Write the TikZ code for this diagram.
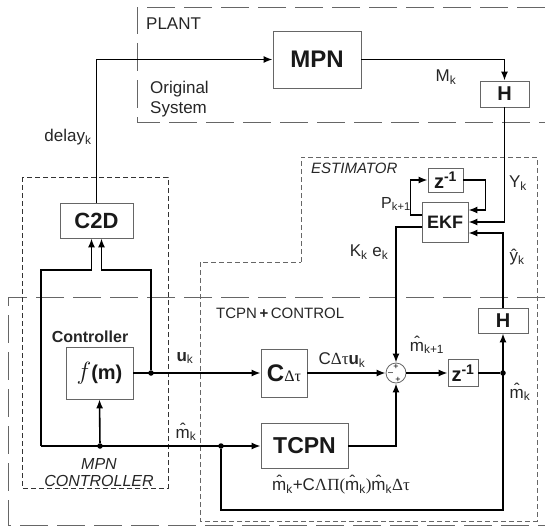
\documentclass[tikz,border=0pt]{standalone}
\usepackage{fontspec}
\setmainfont{Liberation Sans}
\newfontfamily\grk{Liberation Serif}
\usetikzlibrary{arrows.meta}

\newcommand{\fs}[1]{\fontsize{#1}{#1}\selectfont}

\tikzset{
    blk/.style={draw=black!60, line width=0.8pt, fill=white, text=black!90, inner sep=0pt},
    sig/.style={line width=1.6pt, -{Latex[length=9pt,width=7pt]}},
    wire/.style={line width=1.6pt},
    dot/.style={circle, fill, inner sep=0pt, minimum size=5.5pt},
    lbl/.style={text=black!85, inner sep=0pt},
    longdash/.style={draw=black!60, line width=0.8pt, dash pattern=on 28pt off 9pt},
    shortdash/.style={draw=black!60, line width=0.8pt, dash pattern=on 5pt off 3pt},
}

\begin{document}
\begin{tikzpicture}[x=1pt, y=-1pt]
    \useasboundingbox (0,0) rectangle (545,527);

    % Frames
    \draw[longdash] (545,7) -- (137,7) -- (137,122) -- (545,122);
    \draw[longdash] (545,297) -- (8,297) -- (8,525) -- (545,525);
    \draw[shortdash] (301,262) -- (301,157) -- (537,157) -- (537,521) -- (200,521) -- (200,262) -- cycle;
    \draw[shortdash, draw=black!80] (22,177) rectangle (168,488);

    \node[lbl, font=\fs{17}, anchor=west] (plantLbl) at (146,24) {PLANT};
    \node[lbl, font=\fontsize{17}{20}\selectfont, align=left, anchor=west] (origLbl) at (150,99) {Original\\System};
    \node[lbl, font=\fs{15}\itshape, anchor=west] (estLbl) at (311,168) {ESTIMATOR};
    \node[lbl, font=\fs{15}, anchor=west] (tcpnLbl) at (216,313) {TCPN\,\textbf{+}\,CONTROL};
    \node[lbl, font=\fontsize{16}{17}\selectfont\itshape, align=center] (mpncLbl) at (99,473) {MPN\\CONTROLLER};
    \node[lbl, font=\fs{16}\bfseries] (ctrlLbl) at (90,337) {Controller};

    % Blocks
    \node[blk, minimum width=88, minimum height=57, font=\fs{24}\bfseries] (mpn) at (317,59.5) {MPN};
    \node[blk, minimum width=49, minimum height=26, font=\fs{20}\bfseries] (hTop) at (504.5,94) {H};
    \node[blk, minimum width=35, minimum height=24, font=\fs{20}\bfseries] (zUp) at (445.5,180) {z\textsuperscript{-1}};
    \node[blk, minimum width=46, minimum height=40, font=\fs{18}\bfseries] (ekf) at (445,222) {EKF};
    \node[blk, minimum width=73, minimum height=35, font=\fs{22}\bfseries] (c2d) at (96.5,220.5) {C2D};
    \node[blk, minimum width=67, minimum height=52] (fm) at (99.5,373) {{\fs{26}$f$}{\fs{20}\bfseries(m)}};
    \node[blk, minimum width=46, minimum height=48] (cdt) at (284,373) {{\fs{24}\bfseries C}{\fs{16}\grk Δτ}};
    \node[blk, minimum width=87, minimum height=45, font=\fs{23}\bfseries] (tcpn) at (304.5,446) {TCPN};
    \node[draw=black!60, line width=0.8pt, circle, minimum size=20, inner sep=0pt] (sum) at (396,373) {};
    \node[blk, minimum width=30, minimum height=27, font=\fs{20}\bfseries] (zLow) at (463,373) {z\textsuperscript{-1}};
    \node[blk, minimum width=50, minimum height=25, font=\fs{20}\bfseries] (hLow) at (503,320.5) {H};

    % Signs of the sum
    \node[font=\fs{9}, inner sep=0pt] (sumTop) at (396,367) {+};
    \node[font=\fs{9}, inner sep=0pt] (sumLeft) at (390.5,374) {--};
    \node[font=\fs{9}, inner sep=0pt] (sumBot) at (398,379.5) {+};

    % Branch points
    \foreach \n/\x/\y in {uDot/151/373, fDot/100/446, bDot/221/446, zDot/503/373} {
        \node[dot] (\n) at (\x,\y) {};
    }
    \coordinate (mLeft) at (41,446);

    % Plant and estimator
    \draw[sig] (c2d.north) |- (mpn.west);
    \draw[sig] (mpn.east) -| (hTop.north);
    \draw[sig] (hTop.south) |- (ekf.east);
    \draw[sig] (zUp.east) -- ++(22,0) |- ([yshift=12pt]ekf.east);
    \draw[sig] ([yshift=7pt]ekf.west) -- ++(-11,0) |- (zUp.west);
    \draw[sig] (hLow.north) |- ([yshift=-11pt]ekf.east);
    \draw[sig] ([yshift=-5pt]ekf.west) -| (sum.north);

    % Controller
    \draw[sig] (fm.east) -- (cdt.west);
    \draw[sig] (uDot) -- (151,270) -| ([xshift=5pt]c2d.south);
    \draw[sig] (mLeft) -- (41,270) -| ([xshift=-5pt]c2d.south);
    \draw[sig] (mLeft) -- (tcpn.west);
    \draw[sig] (fDot) -- (fm.south);

    % TCPN + control
    \draw[sig] (cdt.east) -- (sum.west);
    \draw[sig] (tcpn.east) -| (sum.south);
    \draw[sig] (sum.east) -- (zLow.west);
    \draw[wire] (zLow.east) -- (zDot);
    \draw[sig] (bDot) -- (221,510) -| (hLow.south);

    % Labels
    \node[lbl, font=\fs{17}] (delayLbl) at (68,137) {delay\textsubscript{k}};
    \node[lbl, font=\fs{17}] (mLbl) at (446,77) {M\textsubscript{k}};
    \node[lbl, font=\fs{17}] (yLbl) at (518,183) {Y\textsubscript{k}};
    \node[lbl, font=\fs{16}] (pLbl) at (396,204) {P\textsubscript{k+1}};
    \node[lbl, font=\fs{17}] (keLbl) at (369,252) {K\textsubscript{k} e\textsubscript{k}};
    \node[lbl, font=\fs{17}] (yhLbl) at (517,257) {\^y\textsubscript{k}};
    \node[lbl, font=\fs{17}] (uLbl) at (185,358) {\textbf{u}\textsubscript{k}};
    \node[lbl, font=\fs{17}] (mhLbl) at (186,432) {\^m\textsubscript{k}};
    \node[lbl, font=\fs{17}] (cuLbl) at (342,360) {C{\grk Δτ}\textbf{u}\textsubscript{k}};
    \node[lbl, font=\fs{17}] (mnLbl) at (427,345) {\^m\textsubscript{k+1}};
    \node[lbl, font=\fs{17}] (mkLbl) at (520,392) {\^m\textsubscript{k}};
    \node[lbl, font=\fs{17}] (tcpnOut) at (341,485) {\^m\textsubscript{k}+C{\grk ΛΠ(}\^m\textsubscript{k}{\grk )}\^m\textsubscript{k}{\grk Δτ}};
\end{tikzpicture}
\end{document}
